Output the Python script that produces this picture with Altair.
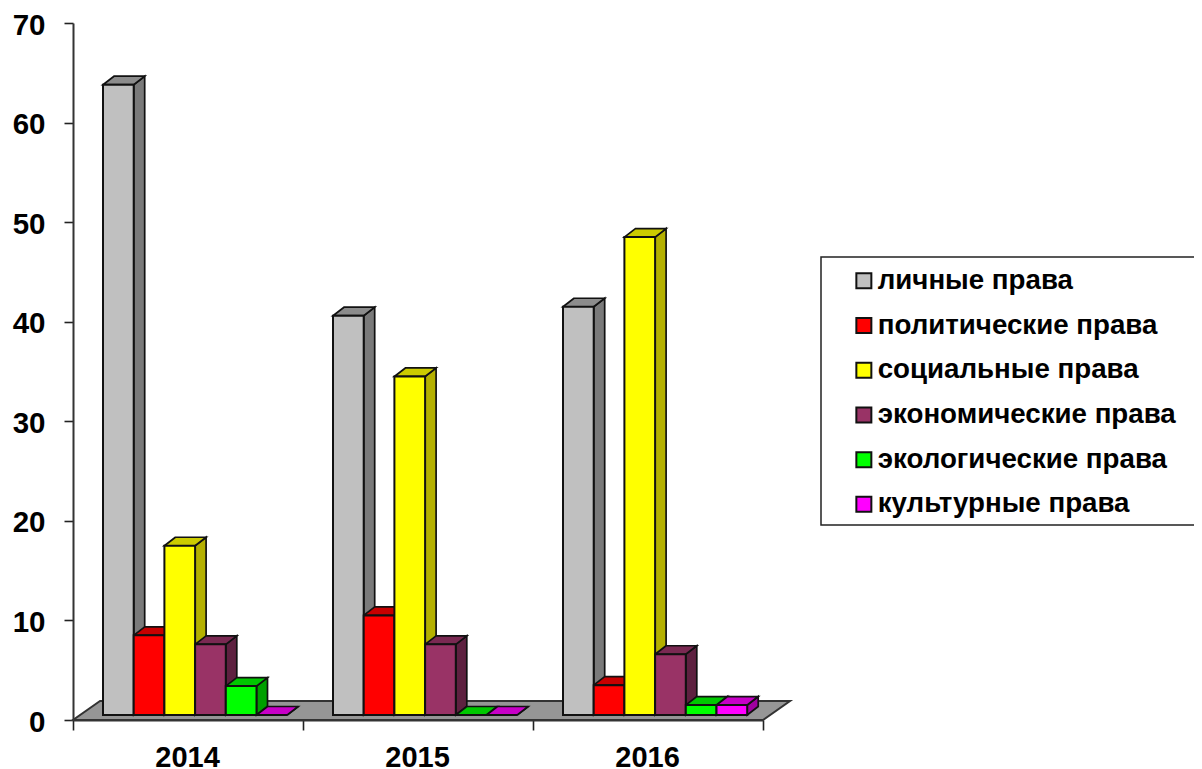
import altair as alt
import pandas as pd

years = ["2014", "2015", "2016"]
series = ["личные права", "политические права", "социальные права",
          "экономические права", "экологические права", "культурные права"]
values = {
    "личные права": [63.3, 40.1, 41.0],
    "политические права": [8.0, 10.0, 3.0],
    "социальные права": [17.0, 34.0, 48.0],
    "экономические права": [7.1, 7.1, 6.1],
    "экологические права": [2.9, 0.0, 1.0],
    "культурные права": [0.0, 0.0, 1.0],
}
front_colors = ["#C0C0C0", "#FF0000", "#FFFF00", "#993366", "#00FF00", "#FF00FF"]
top_colors = ["#8C8C8C", "#C80000", "#CCCC00", "#7A2952", "#00C800", "#C800C8"]
side_colors = ["#7A7A7A", "#960000", "#B4B000", "#5E2140", "#00A000", "#A000A0"]

W, H = 690, 697
YMAX = 70
px_x = 3 / W
px_y = YMAX / H
bar_w = 30.7 * px_x
start = 30 * px_x
dx, dy = 11 * px_x, 8.5 * px_y
base = 5 * px_y

fronts, sides, tops = [], [], []
for g in range(len(years)):
    for s, name in enumerate(series):
        v = values[name][g]
        x0 = g + start + s * bar_w
        x1 = x0 + bar_w
        b, t = base, base + v
        key = f"{g}-{s}"
        fronts.append(dict(x0=x0, x1=x1, b=b, t=t, series=name))
        sides.append(dict(k=key, x=x1, a=b, c=t, col=side_colors[s]))
        sides.append(dict(k=key, x=x1 + dx, a=b + dy, c=t + dy, col=side_colors[s]))
        tops.append(dict(k=key, y=t, a=x0, c=x1, col=top_colors[s]))
        tops.append(dict(k=key, y=t + dy, a=x0 + dx, c=x1 + dx, col=top_colors[s]))

floor_dx, floor_dy = 27 * px_x, 19 * px_y
floor = pd.DataFrame([
    dict(y=0, a=0, c=3),
    dict(y=floor_dy, a=floor_dx, c=3 + floor_dx),
])

FONT = "Liberation Sans"
x_scale = alt.Scale(domain=[0, 3], nice=False, zero=False)
y_scale = alt.Scale(domain=[0, YMAX], nice=False, zero=False)
STROKE = "#111111"

y_axis = alt.Axis(
    values=list(range(0, 71, 10)), grid=False, tickSize=9, tickWidth=1.6, tickColor="#222222",
    domainColor="#333333", domainWidth=2, labelFont=FONT, labelFontWeight="bold",
    labelFontSize=29.5, labelColor="#000000", labelPadding=19, labelOffset=2, labelFlush=False,
    labelBound=False, labelOverlap=False, title=None)
x_axis = alt.Axis(
    values=[0, 1, 2, 3], grid=False, tickSize=10, tickWidth=1.6, tickColor="#222222",
    domainColor="#333333", domainWidth=2, labelFont=FONT, labelFontWeight="bold",
    labelFontSize=29, labelColor="#000000", labelOffset=114, labelPadding=13, labelFlush=False,
    labelBound=False, labelOverlap=False, title=None,
    labelExpr="datum.value < 3 ? toString(2014 + datum.value) : ''")

floor_layer = alt.Chart(floor).mark_area(
    orient="horizontal", fill="#969696", stroke="#333333", strokeWidth=2
).encode(
    y=alt.Y("y:Q", scale=y_scale, axis=y_axis),
    x=alt.X("a:Q", scale=x_scale, axis=x_axis),
    x2="c:Q",
)

side_layer = alt.Chart(pd.DataFrame(sides)).mark_area(
    orient="vertical", stroke=STROKE, strokeWidth=1.7
).encode(
    x=alt.X("x:Q", scale=x_scale, axis=x_axis),
    y=alt.Y("a:Q", scale=y_scale, axis=y_axis),
    y2="c:Q",
    detail="k:N",
    color=alt.Color("col:N", scale=None, legend=None),
)

top_layer = alt.Chart(pd.DataFrame(tops)).mark_area(
    orient="horizontal", stroke=STROKE, strokeWidth=1.7
).encode(
    y=alt.Y("y:Q", scale=y_scale, axis=y_axis),
    x=alt.X("a:Q", scale=x_scale, axis=x_axis),
    x2="c:Q",
    detail="k:N",
    color=alt.Color("col:N", scale=None, legend=None),
)

front_layer = alt.Chart(pd.DataFrame(fronts)).mark_bar(
    stroke=STROKE, strokeWidth=2
).encode(
    x=alt.X("x0:Q", scale=x_scale, axis=x_axis),
    x2="x1:Q",
    y=alt.Y("b:Q", scale=y_scale, axis=y_axis),
    y2="t:Q",
    fill=alt.Fill("series:N", scale=alt.Scale(domain=series, range=front_colors), legend=alt.Legend(
        title=None, orient="none", legendX=777, legendY=244, symbolType="square", symbolSize=225,
        symbolStrokeColor="#111111", symbolStrokeWidth=2, labelFont=FONT, labelFontWeight="bold",
        labelFontSize=27.7, labelColor="#000000", labelOffset=0, rowPadding=15.7, labelLimit=400,
        padding=0, symbolOffset=0, values=series)),
)

frame = alt.Chart(pd.DataFrame({"k": [0]})).mark_rect(
    fill=None, stroke="#222222", strokeWidth=1.5, clip=False
).encode(x=alt.value(748), x2=alt.value(1150), y=alt.value(234), y2=alt.value(502))

chart = alt.layer(
    floor_layer, side_layer, top_layer, front_layer, frame
).resolve_scale(color="independent").properties(
    width=W, height=H,
    autosize=alt.AutoSizeParams(type="none"),
    padding={"left": 65, "top": 15, "right": 431, "bottom": 53},
).configure_view(stroke=None)

chart.save("out.html", embed_options={"renderer": "svg", "actions": False})
